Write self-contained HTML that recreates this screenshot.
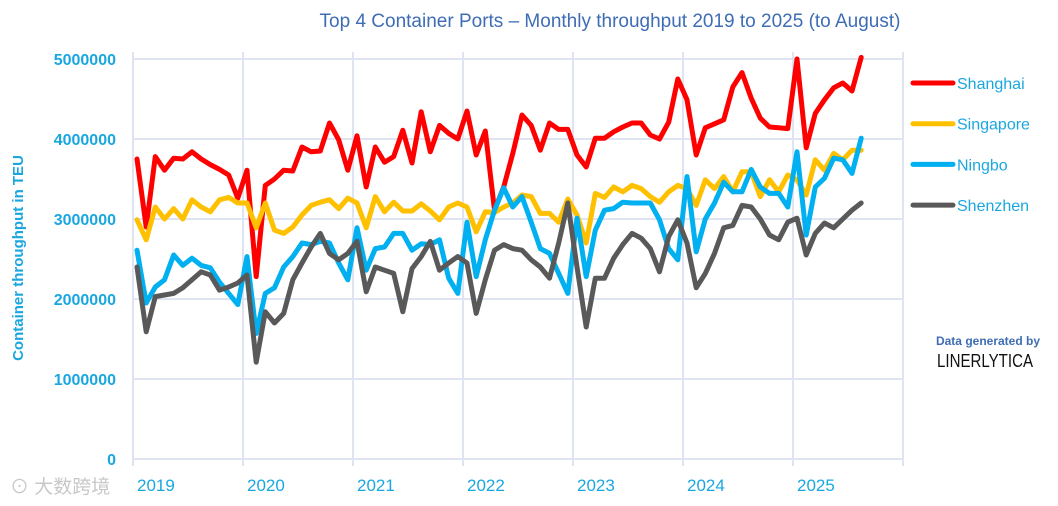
<!DOCTYPE html>
<html><head><meta charset="utf-8"><style>
body{margin:0;background:#fff;}
svg{display:block;font-family:"Liberation Sans Narrow","Liberation Sans",sans-serif;}
</style></head><body>
<svg id="chart" width="1058" height="506" viewBox="0 0 1058 506" xmlns="http://www.w3.org/2000/svg">
<rect width="1058" height="506" fill="#fff"/>
<text x="610" y="27" text-anchor="middle" font-size="19" fill="#3e6db5">Top 4 Container Ports – Monthly throughput 2019 to 2025 (to August)</text>
<g id="grid"></g>
<g id="axes"></g>
<g id="series"></g>
<text transform="translate(23,258) rotate(-90)" text-anchor="middle" font-size="15" font-weight="bold" fill="#1aa7e0">Container throughput in TEU</text>
<g id="legend"></g>
<text x="988" y="345" text-anchor="middle" font-size="12" font-weight="bold" fill="#3e6db5">Data generated by</text>
<text x="937" y="367" font-size="18" textLength="96" lengthAdjust="spacingAndGlyphs" fill="#111">LINERLYTICA</text>
<text x="10" y="493" font-size="19" fill="#c8c8c8" font-family="'Liberation Sans','Noto Sans CJK SC',sans-serif">⊙ 大数跨境</text>
</svg>
<script>
const years = ["2019","2020","2021","2022","2023","2024","2025"];
const yTicks = [0,1000000,2000000,3000000,4000000,5000000];
const seriesNames = ["Shanghai","Singapore","Ningbo","Shenzhen"];
const seriesColors = ["#ff0000","#ffc000","#00b0f0","#595959"];
const shanghai = [3.75,2.9,3.78,3.61,3.76,3.75,3.84,3.75,3.68,3.62,3.55,3.26,
3.61,2.28,3.42,3.5,3.61,3.6,3.9,3.84,3.85,4.2,3.99,3.61,
4.04,3.4,3.9,3.71,3.78,4.11,3.7,4.34,3.84,4.17,4.07,4.0,
4.35,3.8,4.1,3.11,3.4,3.82,4.3,4.17,3.86,4.2,4.12,4.12,
3.8,3.65,4.01,4.01,4.09,4.15,4.2,4.2,4.05,4.0,4.21,4.75,
4.49,3.8,4.14,4.19,4.24,4.65,4.83,4.51,4.26,4.15,4.14,4.13,
5.0,3.89,4.32,4.49,4.64,4.7,4.6,5.02];
const singapore = [2.99,2.74,3.15,3.0,3.13,3.0,3.24,3.15,3.09,3.24,3.27,3.2,
3.2,2.89,3.2,2.86,2.82,2.9,3.05,3.17,3.21,3.24,3.13,3.26,
3.2,2.89,3.28,3.09,3.21,3.1,3.1,3.19,3.1,2.99,3.15,3.2,
3.15,2.84,3.09,3.08,3.15,3.2,3.3,3.28,3.07,3.07,2.96,3.25,
3.05,2.7,3.32,3.27,3.4,3.34,3.42,3.38,3.28,3.21,3.34,3.42,
3.38,3.17,3.49,3.38,3.53,3.34,3.59,3.59,3.28,3.49,3.34,3.55,
3.49,3.3,3.74,3.61,3.82,3.74,3.86,3.86];
const ningbo = [2.61,1.95,2.15,2.24,2.55,2.42,2.51,2.42,2.39,2.21,2.07,1.93,
2.53,1.57,2.07,2.14,2.4,2.53,2.7,2.68,2.72,2.7,2.45,2.24,
2.89,2.36,2.63,2.65,2.82,2.82,2.61,2.69,2.68,2.74,2.26,2.07,
2.96,2.28,2.74,3.11,3.39,3.15,3.28,2.96,2.63,2.57,2.32,2.07,
3.01,2.28,2.86,3.11,3.13,3.21,3.2,3.2,3.2,2.99,2.63,2.49,
3.53,2.59,3.0,3.2,3.46,3.34,3.34,3.62,3.4,3.32,3.32,3.15,
3.84,2.8,3.4,3.51,3.76,3.74,3.57,4.01];
const shenzhen = [2.4,1.59,2.03,2.05,2.07,2.14,2.24,2.34,2.3,2.11,2.15,2.2,
2.3,1.21,1.84,1.7,1.82,2.24,2.45,2.65,2.82,2.57,2.49,2.57,
2.72,2.09,2.4,2.36,2.32,1.84,2.38,2.53,2.72,2.36,2.45,2.53,
2.45,1.82,2.24,2.61,2.68,2.63,2.61,2.49,2.4,2.26,2.7,3.2,
2.4,1.65,2.26,2.26,2.51,2.68,2.82,2.76,2.63,2.34,2.78,2.99,
2.7,2.14,2.32,2.57,2.89,2.92,3.17,3.15,3.0,2.8,2.74,2.96,
3.01,2.55,2.82,2.95,2.89,3.0,3.11,3.2];
const allSeries = [shanghai, singapore, ningbo, shenzhen];

const NS="http://www.w3.org/2000/svg";
function mk(tag, attrs, parent){const e=document.createElementNS(NS,tag);for(const k in attrs)e.setAttribute(k,attrs[k]);parent.appendChild(e);return e;}
const x0=133, yearW=110, firstOff=4;
function xMonth(i){return x0+firstOff+i*yearW/12;}
function yVal(v){return 459-v/1000000*80;}
const grid=document.getElementById('grid'), axes=document.getElementById('axes');
yTicks.forEach(t=>{
  const l=mk('line',{x1:x0,x2:902,y1:yVal(t),y2:yVal(t),stroke:'#dfe4f2','stroke-width':2},grid);
  
  
  const tx=mk('text',{x:116,y:yVal(t)+6,'text-anchor':'end','font-size':16,'font-weight':'bold',fill:'#1aa7e0'},axes);
  tx.textContent=String(t);
  
  
});
for(let k=0;k<=years.length;k++){
  const gx=x0+k*yearW;
  const l=mk('line',{x1:gx,x2:gx,y1:52,y2:466,stroke:'#dfe4f2','stroke-width':2},grid);
  
  
}
years.forEach((yr,k)=>{
  const tx=mk('text',{x:x0+k*yearW+4,y:491,'font-size':17,fill:'#1aa7e0'},axes);
  tx.textContent=yr;
  
  
});
const sg=document.getElementById('series');
allSeries.forEach((arr,s)=>{
  const pts=arr.map((v,i)=>xMonth(i).toFixed(1)+','+yVal(v*1000000).toFixed(1)).join(' ');
  const p=mk('polyline',{points:pts,fill:'none',stroke:seriesColors[s],'stroke-width':5,'stroke-linejoin':'round','stroke-linecap':'round'},sg);
  
  
});
const lg=document.getElementById('legend');
seriesNames.forEach((n,s)=>{
  const y=83+s*40.7;
  const l=mk('line',{x1:913,x2:953,y1:y,y2:y,stroke:seriesColors[s],'stroke-width':5,'stroke-linecap':'round'},lg);
  
  
  const t=mk('text',{x:957,y:y+6,'font-size':16,fill:'#1aa7e0'},lg);
  t.textContent=n;
  
  
});
</script>
</body></html>
